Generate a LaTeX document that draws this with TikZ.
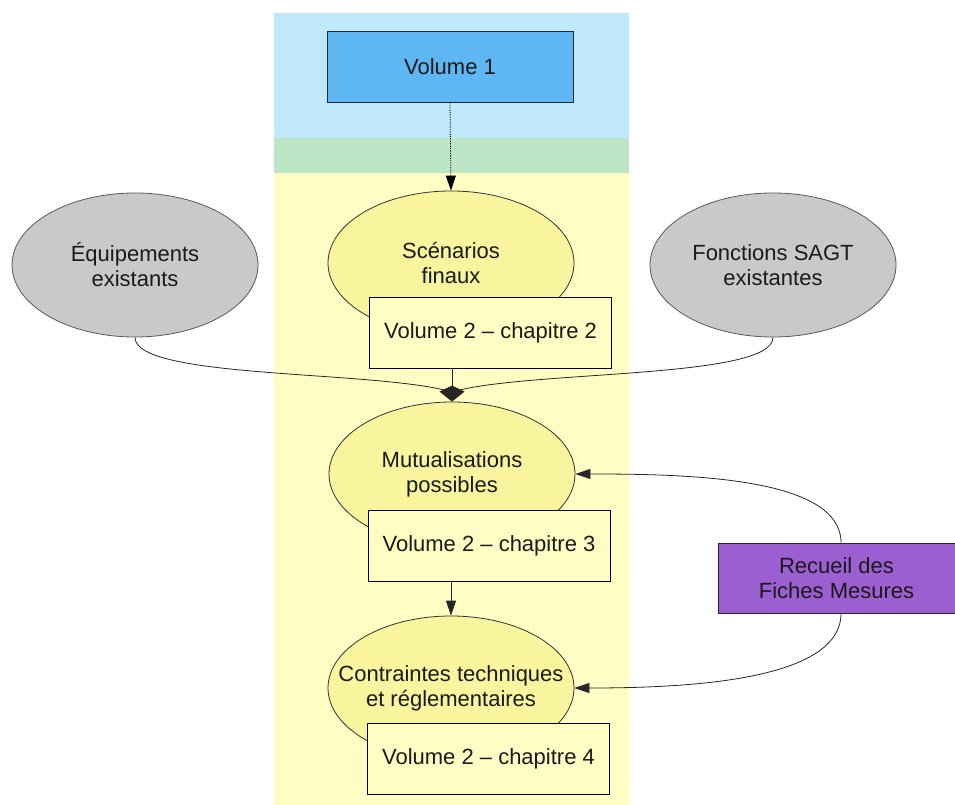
\documentclass[tikz,border=0pt]{standalone}
\usepackage{fontspec}
\setmainfont{Liberation Sans}
\usetikzlibrary{shapes.geometric,arrows.meta,calc}

\definecolor{bandblue}{HTML}{C0E8FB}
\definecolor{bandgreen}{HTML}{BCE6C6}
\definecolor{bandyellow}{HTML}{FFFDC4}
\definecolor{volblue}{HTML}{5EB6F2}
\definecolor{ellyellow}{HTML}{F9F49E}
\definecolor{ellgray}{HTML}{C9C9C9}
\definecolor{recpurple}{HTML}{9C5FD2}
\definecolor{inktext}{HTML}{1A1A1A}

\tikzset{
  every node/.style={text=inktext, align=center, inner sep=0pt},
  ellnode/.style={ellipse, draw=black!80, line width=0.8pt, inner sep=-40pt,
    minimum width=246pt, minimum height=144pt},
  yell/.style={ellnode, fill=ellyellow},
  grayell/.style={ellnode, fill=ellgray, draw=black!65},
  chapbox/.style={rectangle, draw=black, line width=0.8pt, fill=bandyellow,
    minimum width=242pt, minimum height=71pt},
  link/.style={line width=0.8pt, draw=black!85},
  tip/.style={-{Triangle[length=15pt,width=10pt]}},
}

\begin{document}
\begin{tikzpicture}[x=1pt, y=-1pt, font=\fontsize{22}{25}\selectfont]
  \useasboundingbox (0,0) rectangle (955,805);

  % background bands
  \fill[bandblue]   (274,13)  rectangle (629,138);
  \fill[bandgreen]  (274,138) rectangle (629,173);
  \fill[bandyellow] (274,173) rectangle (629,805);

  % top source
  \node[rectangle, draw=black!85, line width=0.8pt, fill=volblue,
        minimum width=246pt, minimum height=71pt] (vol1) at (450,66.5) {Volume 1};

  % side inputs
  \node[grayell] (equip) at (135,265) {Équipements\\existants};
  \node[grayell] (fonct) at (773,265) {Fonctions SAGT\\existantes};

  % main column
  \node[yell] (scen) at (451,263) {Scénarios\\finaux};
  \node[chapbox] (ch2) at (490.5,332.5) {Volume 2 – chapitre 2};

  \node[yell] (mut) at (452,474) {Mutualisations\\possibles};
  \node[chapbox] (ch3) at (489,546) {Volume 2 – chapitre 3};

  \node[yell] (con) at (451,688) {Contraintes techniques\\et réglementaires};
  \node[chapbox] (ch4) at (488.5,759) {Volume 2 – chapitre 4};

  % measures collection
  \node[rectangle, draw=black!85, line width=0.8pt, fill=recpurple,
        minimum width=237pt, minimum height=70pt] (rec) at (836.5,578)
        {Recueil des\\Fiches Mesures};

  % connectors
  \draw[link, tip, draw=black, dash pattern=on 1.2pt off 1.2pt] (vol1.south) -- (scen.north);

  \coordinate (join) at (452,392);
  \draw[link] (equip.south) .. controls +(0,42) and +(-75,-22) .. (join);
  \draw[link] (fonct.south) .. controls +(0,42) and +(75,-22) .. (join);
  \draw[link, -{Kite[length=16pt,width=25pt,inset=6pt]}] ($(ch2.south)+(-38.5,0)$) -- (mut.north);

  \draw[link, tip] ($(ch3.south)+(-38,0)$) -- (con.north);

  \draw[link, tip] ($(rec.north)+(4.5,0)$) .. controls +(0,-66) and +(110,0) .. (mut.east);
  \draw[link, tip] ($(rec.south)+(4.5,0)$) .. controls +(0,68) and +(110,0) .. (con.east);
\end{tikzpicture}
\end{document}
